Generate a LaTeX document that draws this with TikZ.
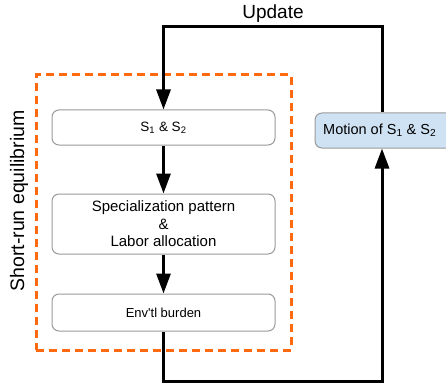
\documentclass[tikz,border=0pt]{standalone}
\usepackage{fontspec}
\setmainfont{Liberation Sans}
\usetikzlibrary{arrows.meta,calc}
\definecolor{boxgray}{HTML}{9A9A9A}
\definecolor{dashorange}{HTML}{FF6A10}
\definecolor{motionblue}{HTML}{CFE2F3}
\tikzset{
  flowbox/.style={draw=boxgray, line width=1pt, rounded corners=7pt, fill=white,
    minimum width=223pt, inner sep=0pt, align=center, text=black},
  conn/.style={line width=3pt, black},
  arr/.style={conn, -{Triangle[length=20pt,width=14pt]}},
}
\begin{document}
\begin{tikzpicture}[x=1pt,y=-1pt]
\useasboundingbox (0,0) rectangle (446,382);
\clip (0,0) rectangle (446,382);
% dashed region
\node[draw=dashorange, line width=3pt, dash pattern=on 8pt off 5pt,
      minimum width=255pt, minimum height=275pt, inner sep=0pt] (region) at (163.5,212.5) {};
% boxes
\node[flowbox, minimum height=35pt, font=\fontsize{13.5}{16}\selectfont] (b1) at (163.5,127.5) {S\textsubscript{1} \& S\textsubscript{2}};
\node[flowbox, minimum height=60pt, font=\fontsize{15}{17.5}\selectfont] (b2) at (163.5,224) {Specialization pattern\\\&\\Labor allocation};
\node[flowbox, minimum height=37pt, font=\fontsize{13}{16}\selectfont] (b3) at (163.5,312.5) {Env\textquotesingle tl burden};
\node[draw=boxgray, line width=1pt, rounded corners=7pt, fill=motionblue,
      minimum width=140pt, minimum height=35pt, inner sep=0pt] (motion) at (385,130.5) {};
\node[anchor=west, inner sep=0pt, font=\fontsize{14.5}{16}\selectfont] (mtext) at (323,130.5) {Motion of S\textsubscript{1} \& S\textsubscript{2}};
% labels
\node[font=\fontsize{19}{22}\selectfont, inner sep=0pt] (upd) at (273,14) {Update};
\node[font=\fontsize{19.5}{22}\selectfont, inner sep=0pt, rotate=90] (srun) at (19,201) {Short-run equilibrium};
% coordinates
\coordinate (cbr) at (382,381);
\coordinate (ctop) at (163.5,27);
% connectors
\draw[arr] (b1.south) -- (b2.north);
\draw[arr] (b2.south) -- (b3.north);
\draw[arr] (b3.south) |- (cbr) -- (cbr |- motion.south);
\draw[arr] (cbr |- motion.north) -- (cbr |- ctop) -- (ctop) -- (b1.north);
\end{tikzpicture}
\end{document}
